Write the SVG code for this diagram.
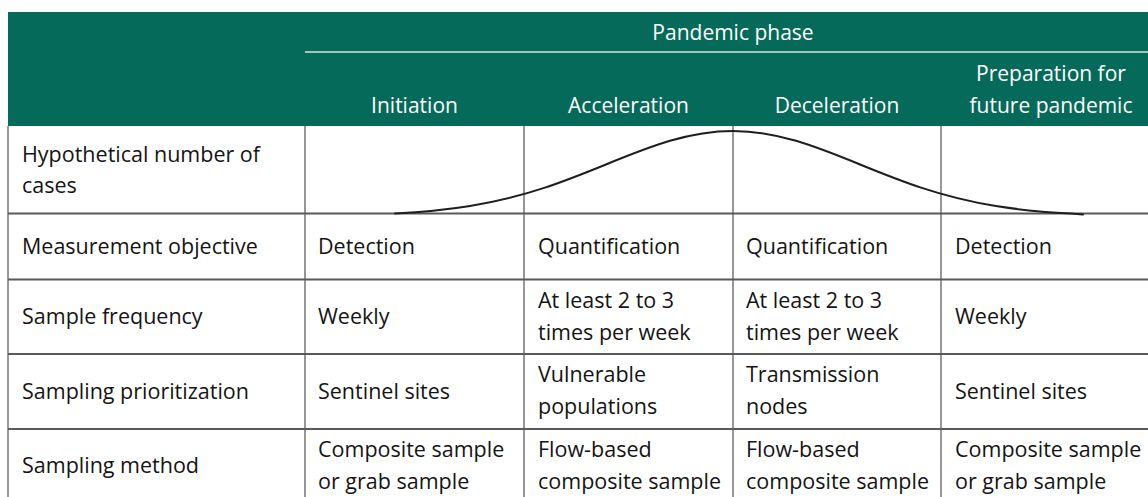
<svg xmlns="http://www.w3.org/2000/svg" width="1148" height="497" viewBox="0 0 1148 497">
  <style>
    .hdr { fill: #066a5a; }
    .txt { font-family: "Open Sans", "Noto Sans", sans-serif; font-size: 21.5px; fill: #141414; }
    .htxt { font-family: "Open Sans", "Noto Sans", sans-serif; font-size: 21px; fill: #ffffff; text-anchor: middle; }
    .hline { stroke: #5a5a5a; stroke-width: 2; }
    .vline { stroke: #606060; stroke-width: 1.3; }
    .curve { fill: none; stroke: #1e1e1e; stroke-width: 2; stroke-linecap: round; }
  </style>

  <rect width="1148" height="497" fill="#ffffff"/>

  <!-- Header band -->
  <g id="header">
    <rect class="hdr" x="8" y="12" width="1140" height="114"/>
    <line x1="305" y1="52" x2="1148" y2="52" stroke="#d4e6e2" stroke-width="1.5"/>
    <text class="htxt" x="733" y="40">Pandemic phase</text>
    <text class="htxt" x="414.5" y="113">Initiation</text>
    <text class="htxt" x="628.5" y="113">Acceleration</text>
    <text class="htxt" x="837" y="113">Deceleration</text>
    <text class="htxt" x="1051" y="81">Preparation for</text>
    <text class="htxt" x="1051" y="113">future pandemic</text>
  </g>

  <!-- Table grid -->
  <g id="grid">
    <line class="vline" x1="8" y1="126" x2="8" y2="497"/>
    <line class="vline" x1="305" y1="126" x2="305" y2="497"/>
    <line class="vline" x1="524" y1="126" x2="524" y2="497"/>
    <line class="vline" x1="733" y1="126" x2="733" y2="497"/>
    <line class="vline" x1="941" y1="126" x2="941" y2="497"/>
    <line class="hline" x1="8" y1="213.5" x2="1148" y2="213.5"/>
    <line class="hline" x1="8" y1="279.5" x2="1148" y2="279.5"/>
    <line class="hline" x1="8" y1="354" x2="1148" y2="354"/>
    <line class="hline" x1="8" y1="429" x2="1148" y2="429"/>
  </g>

  <!-- Bell curve of hypothetical case numbers -->
  <g id="connectors">
    <path class="curve" d="M395,213.54 C420,212.25 445,210.10 470,206.04 C495,201.98 520,195.88 545,187.6 C565.33,180.87 585.67,172.70 606,164.45 C627.33,155.79 648.67,147.06 670,140.8 C691,134.63 712,131 733,131 C754,131 775,134.63 796,140.8 C817.33,147.06 838.67,155.79 860,164.45 C880.33,172.70 900.67,180.87 921,187.6 C946,195.88 971,201.98 996,206.04 C1021,210.10 1046,212.25 1071,213.54 L1083,214.5"/>
  </g>

  <!-- Row: hypothetical number of cases -->
  <g id="row-cases">
    <text class="txt" x="22" y="162">Hypothetical number of</text>
    <text class="txt" x="22" y="193">cases</text>
  </g>

  <!-- Row: measurement objective -->
  <g id="row-objective">
    <text class="txt" x="22" y="254">Measurement objective</text>
    <text class="txt" x="318" y="254">Detection</text>
    <text class="txt" x="538" y="254">Quantification</text>
    <text class="txt" x="746" y="254">Quantification</text>
    <text class="txt" x="955" y="254">Detection</text>
  </g>

  <!-- Row: sample frequency -->
  <g id="row-frequency">
    <text class="txt" x="22" y="324">Sample frequency</text>
    <text class="txt" x="318" y="324">Weekly</text>
    <text class="txt" x="538" y="308">At least 2 to 3</text>
    <text class="txt" x="538" y="340">times per week</text>
    <text class="txt" x="746" y="308">At least 2 to 3</text>
    <text class="txt" x="746" y="340">times per week</text>
    <text class="txt" x="955" y="324">Weekly</text>
  </g>

  <!-- Row: sampling prioritization -->
  <g id="row-prioritization">
    <text class="txt" x="22" y="399">Sampling prioritization</text>
    <text class="txt" x="318" y="399">Sentinel sites</text>
    <text class="txt" x="538" y="382">Vulnerable</text>
    <text class="txt" x="538" y="414">populations</text>
    <text class="txt" x="746" y="382">Transmission</text>
    <text class="txt" x="746" y="414">nodes</text>
    <text class="txt" x="955" y="399">Sentinel sites</text>
  </g>

  <!-- Row: sampling method -->
  <g id="row-method">
    <text class="txt" x="22" y="473">Sampling method</text>
    <text class="txt" x="318" y="457">Composite sample</text>
    <text class="txt" x="318" y="489">or grab sample</text>
    <text class="txt" x="538" y="457">Flow-based</text>
    <text class="txt" x="538" y="489">composite sample</text>
    <text class="txt" x="746" y="457">Flow-based</text>
    <text class="txt" x="746" y="489">composite sample</text>
    <text class="txt" x="955" y="457">Composite sample</text>
    <text class="txt" x="955" y="489">or grab sample</text>
  </g>
</svg>
